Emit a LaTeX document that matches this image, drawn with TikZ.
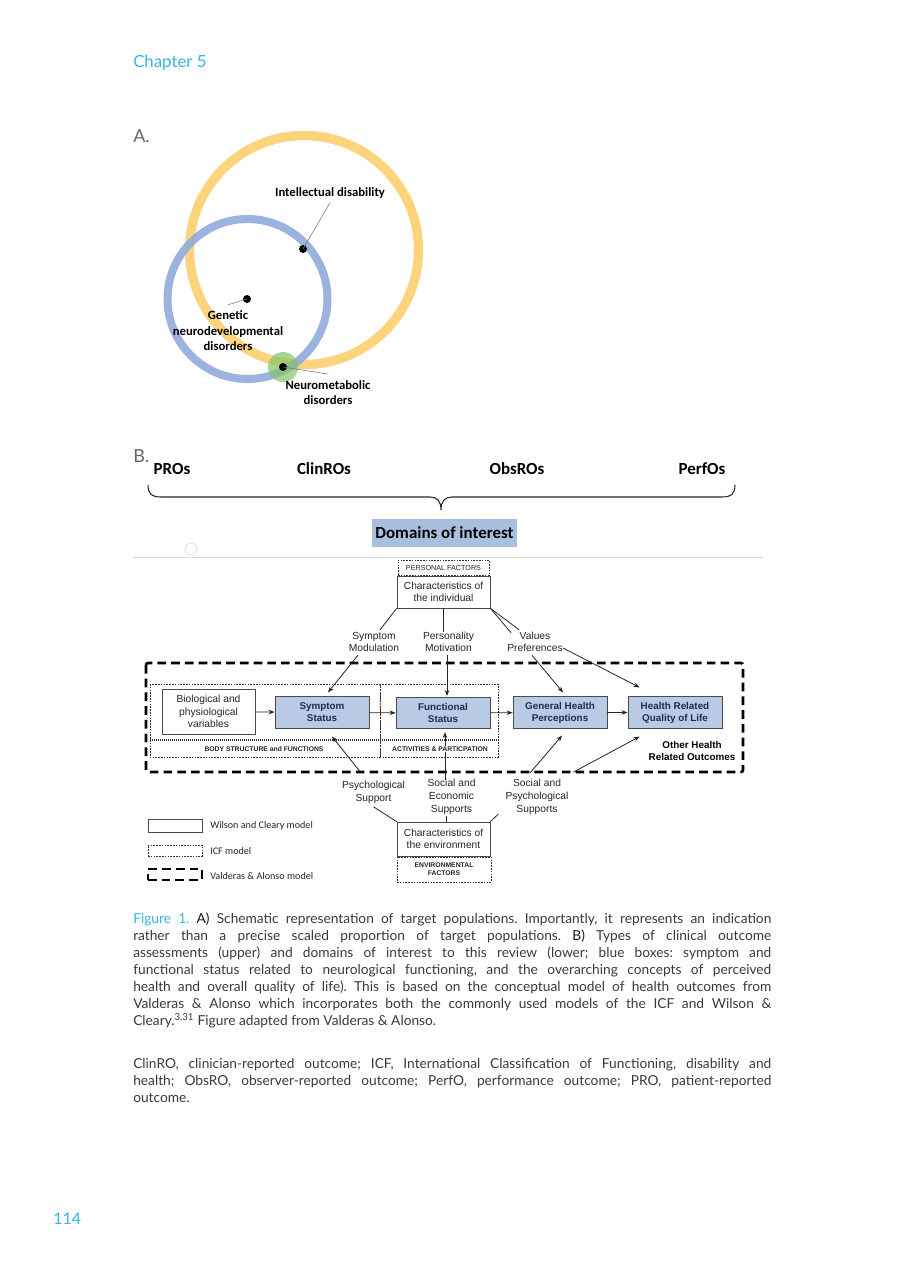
\documentclass[tikz,border=0pt]{standalone}
\usepackage{fontspec}
\setmainfont{Lato}
\newfontfamily\calib{Carlito}
\newfontfamily\arialf{Liberation Sans}
\usetikzlibrary{arrows.meta,calc}
\definecolor{cyanc}{HTML}{35B6E3}
\definecolor{grayt}{HTML}{666666}
\definecolor{capt}{HTML}{3A3A3A}
\definecolor{venny}{HTML}{FDD47B}
\definecolor{vennb}{HTML}{8EA9DA}
\definecolor{venng}{HTML}{84C36A}
\definecolor{dombg}{HTML}{A8BFDF}
\definecolor{boxbg}{HTML}{B8CAE4}
\definecolor{boxtx}{HTML}{1E2D4A}
\definecolor{boxln}{HTML}{4A4A4A}
\newcommand\capline[1]{\makebox[478.5pt][s]{#1}}
\newcommand\capab[1]{\textcolor{black!90}{#1}}
\frenchspacing
\begin{document}
\begin{tikzpicture}[x=0.75pt,y=-0.75pt,
  wc/.style={draw=boxln, line width=0.6pt, fill=white, inner sep=0pt, align=center,
    font=\arialf\fontsize{7.7}{9.3}\selectfont, text=black!85},
  bluebox/.style={wc, fill=boxbg, font=\arialf\bfseries\fontsize{7.4}{9}\selectfont, text=boxtx,
    minimum width=70.5pt, minimum height=23.5pt},
  icf/.style={draw=black!80, line width=0.5pt, dash pattern=on 1.2pt off 0.9pt},
  va/.style={draw=black, line width=2pt, dash pattern=on 6.5pt off 3.8pt},
  lab/.style={align=center, inner sep=0pt, font=\arialf\fontsize{7.7}{9.4}\selectfont, text=black!85},
  capsr/.style={inner sep=0pt, align=center, font=\arialf\fontsize{5.4}{6}\selectfont, text=black!85},
  capsb/.style={inner sep=0pt, align=center, font=\arialf\bfseries\fontsize{5.1}{6}\selectfont, text=black!85},
  conn/.style={line width=0.6pt, draw=black!85},
  arr/.style={conn, -{Stealth[length=4.5pt,width=3.4pt]}},
  captx/.style={anchor=base west, inner sep=0pt, text=capt, font=\fontsize{10.3}{12.75}\selectfont},
  vl/.style={font=\calib\bfseries\fontsize{9.5}{11.6}\selectfont, align=center, inner sep=0pt},
  hdr/.style={font=\calib\bfseries\fontsize{12.7}{14}\selectfont, inner sep=0pt},
  leader/.style={draw=black!55, line width=0.4pt},
  dot/.style={circle, fill=black, minimum size=6pt, inner sep=0pt},
  legtx/.style={anchor=west, inner sep=0pt, font=\calib\fontsize{7.6}{9}\selectfont, text=black!85}
]
\useasboundingbox (0,0) rectangle (905,1280);
\fill[white] (0,0) rectangle (905,1280);

% header
\node[anchor=base west, inner sep=0pt, text=cyanc, font=\fontsize{12.6}{14}\selectfont] (chap) at (133,68) {Chapter 5};
\node[anchor=base west, inner sep=0pt, text=cyanc, font=\fontsize{12}{14}\selectfont] (pg) at (53,1224) {114};

% ---------- A ----------
\node[anchor=base west, inner sep=0pt, text=grayt, font=\fontsize{13.5}{15}\selectfont] (la) at (133,143) {A.};
\draw[venny, line width=7pt] (304,250) circle (114.5);
\draw[vennb, line width=6pt, opacity=0.88] (247.5,299) circle (80);
\fill[venng, opacity=0.7] (283,367) circle (15);
\node[dot] (d1) at (303,249) {};
\node[dot] (d2) at (247,299) {};
\node[dot] (d3) at (283,367) {};
\node[vl] (lid) at (330,193) {Intellectual disability};
\node[vl] (lgen) at (228,331) {Genetic\\neurodevelopmental\\disorders};
\node[vl] (lneu) at (328,392.5) {Neurometabolic\\disorders};
\draw[leader] (d1.center) -- ($(lid.south)+(0,4)$);
\draw[leader] (d2.center) -- ($(lgen.north)+(0,-6)$);
\draw[leader] (d3.center) -- ($(lneu.north)+(0,-6)$);

% ---------- B ----------
\node[anchor=base west, inner sep=0pt, text=grayt, font=\fontsize{13.5}{15}\selectfont] (lb) at (133,462) {B.};
\node[hdr] (pro) at (172,469) {PROs};
\node[hdr] (clin) at (324,469) {ClinROs};
\node[hdr] (obs) at (517,469) {ObsROs};
\node[hdr] (perf) at (702,469) {PerfOs};
\draw[black!85, line width=0.8pt] (148,485) .. controls (148,493) and (151,497) .. (161,497)
  -- (430,497) .. controls (437,497) and (441,501) .. (441,510)
  .. controls (441,501) and (445,497) .. (452,497) -- (722,497)
  .. controls (732,497) and (735,493) .. (735,485);
\node[hdr, fill=dombg, minimum width=108.75pt, minimum height=21pt] (dom) at (444.5,533) {Domains of interest};
\draw[black!15, line width=0.75pt] (133,557) -- (763,557);
\draw[black!15, line width=0.5pt] (191,549) circle (6);

% lower diagram
\node[capsr, icf, minimum width=68.25pt, minimum height=11.5pt] (persf) at (443.5,568) {PERSONAL FACTORS};
\node[wc, minimum width=69.75pt, minimum height=24pt] (indiv) at (443.5,592) {Characteristics of\\the individual};

\node[lab] (symmod) at (374,642) {Symptom\\Modulation};
\node[lab] (pers) at (448.5,642) {Personality\\Motivation};
\node[lab] (vals) at (535,642) {Values\\Preferences};

\draw[va, rounded corners=1.5pt] (146,663) rectangle (743,772);
\draw[icf] (150,684) rectangle (380,757);
\draw[icf] (380,684) rectangle (498,757);
\draw[black!80, line width=1.1pt, dash pattern=on 0.9pt off 0.6pt] (150,740) -- (498,740);

\node[wc, minimum width=69.75pt, minimum height=33.75pt] (bio) at (208.5,711.5) {Biological and\\physiological\\variables};
\node[bluebox] (sym) at (322,712.5) {Symptom\\Status};
\node[bluebox] (fun) at (443,713) {Functional\\Status};
\node[bluebox] (gen) at (560,712.5) {General Health\\Perceptions};
\node[bluebox] (hrq) at (675,712.5) {Health Related\\Quality of Life};
\node[lab, font=\arialf\bfseries\fontsize{7.4}{9.2}\selectfont, text=black] (other) at (692,751) {Other Health\\Related Outcomes};

\node[lab] (psych) at (373.5,792.5) {Psychological\\Support};
\node[lab, font=\arialf\fontsize{7.7}{9.75}\selectfont] (socec) at (451.5,797) {Social and\\Economic\\Supports};
\node[lab, font=\arialf\fontsize{7.7}{9.75}\selectfont] (socps) at (537,797) {Social and\\Psychological\\Supports};

\node[wc, minimum width=69.75pt, minimum height=25.5pt] (env) at (443.5,839) {Characteristics of\\the environment};
\node[capsb, icf, minimum width=70.5pt, minimum height=18.75pt] (envf) at (444,869.5) {ENVIRONMENTAL\\FACTORS};

% connectors upper
\draw[conn] (indiv.south west) -- ($(symmod.north)+(6,-2)$);
\draw[conn] (indiv.south) -- (indiv.south |- pers.north);
\draw[conn] (indiv.south east) -- ($(vals.north west)+(4,1)$);
\draw[conn] (indiv.south east) -- ($(vals.north west)+(12,-2)$);
\draw[arr] ($(vals.south)+(-3,3)$) -- ($(gen.north)+(3,-4)$);
\draw[arr] ($(vals.east)+(0,6)$) -- ($(hrq.north west)+(12,-9)$);
\draw[arr] ($(symmod.south)+(-16,3)$) -- ($(sym.north)+(6,-4)$);
\draw[arr] ($(pers.south)+(-1.5,3)$) -- ($(pers.south |- fun.north)+(-1.5,-1)$);

\draw[arr] (bio) -- (sym);
\draw[arr] (sym) -- (fun);
\draw[arr] (fun) -- (gen);
\draw[arr] (gen) -- (hrq);

% connectors lower
\draw[arr] ($(psych.north)+(-13,-9)$) -- ($(sym.south)+(10,8)$);
\draw[arr] ($(socec.north)+(-6.5,1)$) -- ($(socec.north |- fun.south)+(-6.5,3)$);
\draw[arr] ($(socps.north)+(-7,-6)$) -- ($(gen.south)+(2,7)$);
\draw[arr] ($(socps.north east)+(5,-7)$) -- ($(hrq.south west)+(12,8)$);
\draw[conn] (env.north west) -- ($(psych.south)+(0,3)$);
\draw[conn] ($(env.north)+(3,0)$) -- ($(socec.south)+(-5,1)$);
\draw[conn] (env.north east) -- ($(socps.south west)+(-7,-1)$);

\node[capsb] (bsf) at (264,749) {BODY STRUCTURE and FUNCTIONS};
\node[capsb, fill=white, inner sep=0.5pt] (acp) at (440,749) {ACTIVITIES \& PARTICPATION};

% legend
\node[wc, minimum width=40.5pt, minimum height=9.75pt] (lg1) at (175,825.5) {};
\node[icf, minimum width=40.5pt, minimum height=8.25pt, inner sep=0pt] (lg2) at (175,850.5) {};
\node[va, minimum width=40.5pt, minimum height=8.25pt, inner sep=0pt] (lg3) at (175,874.5) {};
\node[legtx] (lt1) at (210,825.5) {Wilson and Cleary model};
\node[legtx] (lt2) at (210,851) {ICF model};
\node[legtx] (lt3) at (210,876) {Valderas \& Alonso model};

% caption
\node[captx] (c1) at (133,923) {\capline{\textcolor{cyanc}{Figure 1.} \capab{A)} Schematic representation of target populations. Importantly, it represents an indication}};
\node[captx] (c2) at (133,940) {\capline{rather than a precise scaled proportion of target populations. \capab{B)} Types of clinical outcome}};
\node[captx] (c3) at (133,957) {\capline{assessments (upper) and domains of interest to this review (lower; blue boxes: symptom and}};
\node[captx] (c4) at (133,974) {\capline{functional status related to neurological functioning, and the overarching concepts of perceived}};
\node[captx] (c5) at (133,991) {\capline{health and overall quality of life). This is based on the conceptual model of health outcomes from}};
\node[captx] (c6) at (133,1008) {\capline{Valderas \& Alonso which incorporates both the commonly used models of the ICF and Wilson \&}};
\node[captx] (c7) at (133,1025) {Cleary.\textsuperscript{3,31} Figure adapted from Valderas \& Alonso.};
\node[captx] (n1) at (133,1068) {\capline{ClinRO, clinician-reported outcome; ICF, International Classification of Functioning, disability and}};
\node[captx] (n2) at (133,1085) {\capline{health; ObsRO, observer-reported outcome; PerfO, performance outcome; PRO, patient-reported}};
\node[captx] (n3) at (133,1102) {outcome.};
\end{tikzpicture}
\end{document}
